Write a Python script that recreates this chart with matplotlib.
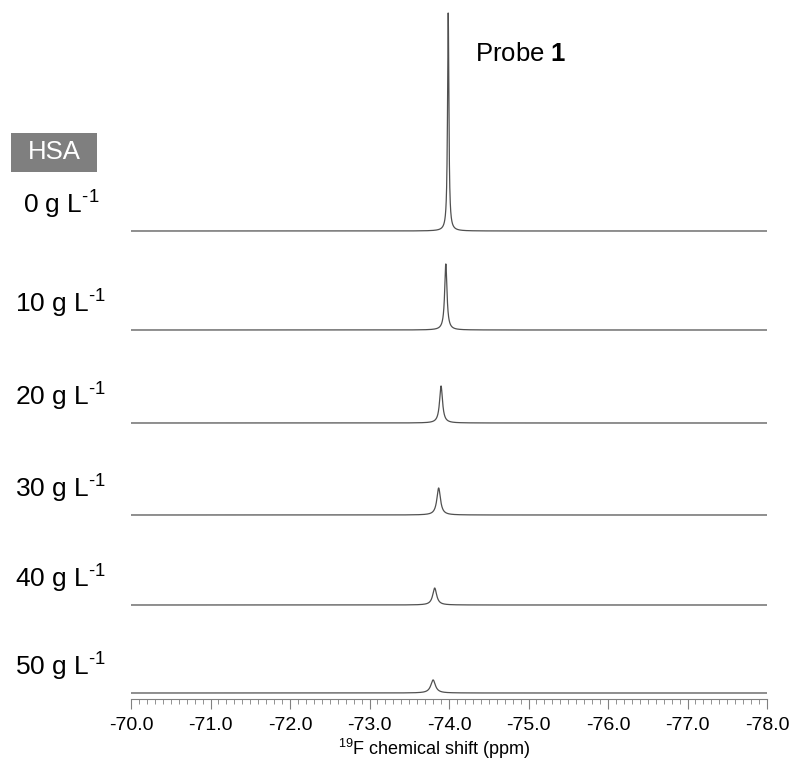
import numpy as np
import matplotlib
matplotlib.use("Agg")
import matplotlib.pyplot as plt
from matplotlib.patches import Rectangle
from matplotlib.ticker import MultipleLocator, FormatStrFormatter

plt.rcParams['font.family'] = ['Liberation Sans', 'DejaVu Sans']
plt.rcParams['mathtext.fontset'] = 'custom'
plt.rcParams['mathtext.rm'] = 'Liberation Sans'
plt.rcParams['mathtext.bf'] = 'Liberation Sans:bold'
plt.rcParams['mathtext.default'] = 'regular'

# HSA concentration (g/L) and 19F peak parameters
conc = [0, 10, 20, 30, 40, 50]
peak_ppm = [-73.99, -73.96, -73.90, -73.87, -73.82, -73.80]
peak_height = [100, 30.3, 17.0, 12.4, 7.8, 6.0]  # relative intensity
peak_fwhm = [0.020, 0.035, 0.045, 0.055, 0.060, 0.070]  # ppm

# vertical stacking offsets (plot units) for each trace
offsets = [468, 369, 276, 184, 94, 6]
scale = 2.18

ppm = np.linspace(-70.0, -78.0, 8001)


def lorentz(x, x0, h, fwhm):
    g = fwhm / 2.0
    return h * g**2 / ((x - x0)**2 + g**2)


fig = plt.figure(figsize=(7.95, 7.63), dpi=100)
W, H = 795, 763
ax = fig.add_axes([131 / W, 1 - 699 / H, 636 / W, 699 / H])

for c, x0, h, w, off in zip(conc, peak_ppm, peak_height, peak_fwhm, offsets):
    y = off + scale * lorentz(ppm, x0, h, w)
    ax.plot(ppm, y, color='#505050', linewidth=0.9)
    # label to the left of each trace
    ymid = off + 26
    fig.text(61 / W, ymid / H + (1 - 699 / H), f"{c} g L$^{{\\text{{-}}1}}$",
             ha='center', va='center', fontsize=19, color='black')

ax.set_xlim(-70.0, -78.0)
ax.set_ylim(0, 699)
for s in ['left', 'right', 'top']:
    ax.spines[s].set_visible(False)
ax.spines['bottom'].set_color('#808080')
ax.spines['bottom'].set_linewidth(0.8)
ax.set_yticks([])
ax.xaxis.set_major_locator(MultipleLocator(1.0))
ax.xaxis.set_minor_locator(MultipleLocator(0.1))
ax.xaxis.set_major_formatter(FormatStrFormatter('%.1f'))
ax.tick_params(axis='x', which='major', length=7, width=0.8, color='#808080',
               labelsize=14, pad=6)
ax.tick_params(axis='x', which='minor', length=3.5, width=0.6, color='#808080')
ax.patch.set_alpha(0)

fig.text(434 / W, 2 / H, "$^{19}$F chemical shift (ppm)",
         ha='center', va='bottom', fontsize=13)

fig.text(475 / W, 1 - 54 / H, r"Probe $\mathbf{1}$",
         ha='left', va='center', fontsize=18.5)

fig.patches.append(Rectangle((11 / W, 1 - 172 / H), 86 / W, 39 / H,
                             transform=fig.transFigure, facecolor='#7f7f7f',
                             edgecolor='none'))
fig.text(54 / W, 1 - 152 / H, "HSA", ha='center', va='center',
         fontsize=18.5, color='white')

fig.savefig("out.png", dpi=100)
